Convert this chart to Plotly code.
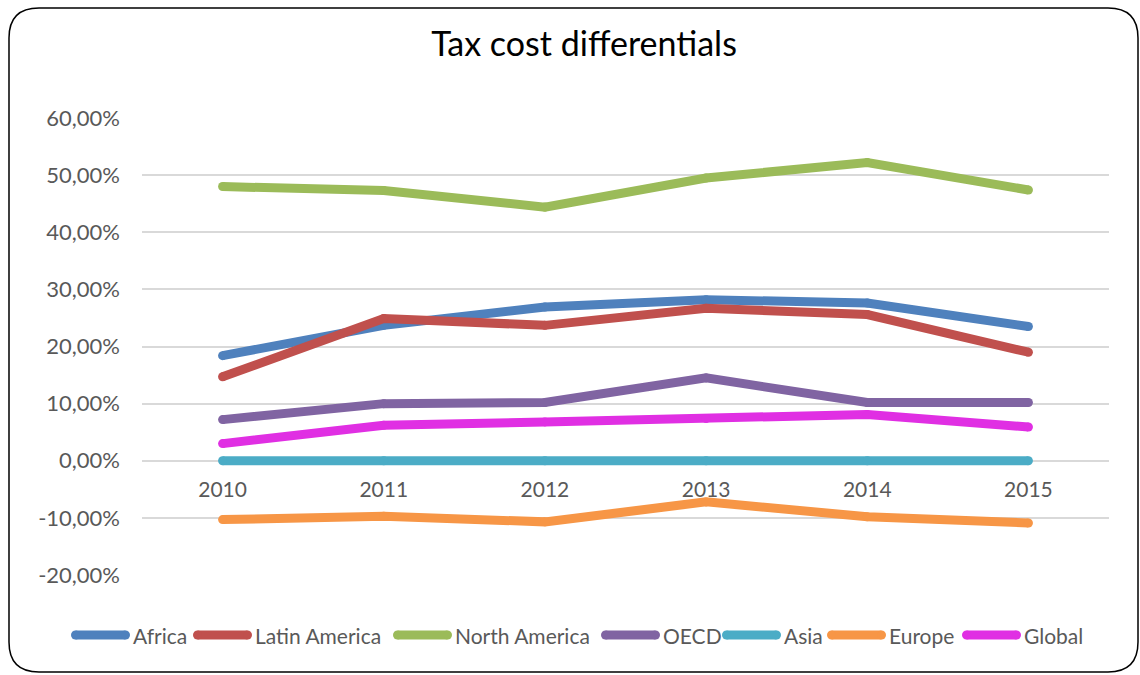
import numpy as np
import plotly.graph_objects as go

# Data (percent)
years = ["2010", "2011", "2012", "2013", "2014", "2015"]
africa = [18.4, 23.7, 26.9, 28.2, 27.6, 23.5]
latin_america = [14.7, 24.9, 23.7, 26.7, 25.6, 19.0]
north_america = [48.0, 47.3, 44.4, 49.5, 52.2, 47.4]
oecd = [7.2, 10.0, 10.2, 14.5, 10.2, 10.2]
asia = [0.0, 0.0, 0.0, 0.0, 0.0, 0.0]
europe = [-10.3, -9.7, -10.7, -7.2, -9.8, -10.9]
global_ = [3.0, 6.2, 6.8, 7.4, 8.1, 5.9]

series_names = ["Africa", "Latin America", "North America", "OECD", "Asia", "Europe", "Global"]
series_values = [africa, latin_america, north_america, oecd, asia, europe, global_]
series_colors = ["#4F81BD", "#C0504D", "#9BBB59", "#8064A2", "#4BACC6", "#F79646", "#E02FE3"]

y_ticks = [-20, -10, 0, 10, 20, 30, 40, 50, 60]

W, H = 1140, 675
# plot area in pixels
L, R, T, B = 142, 1109, 118, 575
LINE_W = 9

FONT = "Lato, 'Open Sans', sans-serif"
GREY = "#595959"


def px_to_paper(x, y):
    return (x - L) / (R - L), (B - y) / (B - T)


fig = go.Figure()
for name, vals, color in zip(series_names, series_values, series_colors):
    fig.add_trace(go.Scatter(
        x=years, y=np.array(vals) / 100.0, name=name, mode="lines+markers",
        line=dict(color=color, width=LINE_W),
        marker=dict(color=color, size=LINE_W, line=dict(width=0)),
        hoverinfo="skip", showlegend=False,
    ))

# Legend drawn as long rounded bars followed by the series name
legend_starts = [71, 193, 393, 601, 722, 827, 962]
legend_len = 59
legend_y = 635
annotations = []
shapes = []
for name, color, sx in zip(series_names, series_colors, legend_starts):
    xa, ya = px_to_paper(sx + LINE_W / 2, legend_y)
    xb, _ = px_to_paper(sx + legend_len - LINE_W / 2, legend_y)
    shapes.append(dict(type="line", xref="paper", yref="paper", x0=xa, x1=xb, y0=ya, y1=ya,
                       line=dict(color=color, width=LINE_W)))
    for xc in (xa, xb):
        shapes.append(dict(type="circle", xref="paper", yref="paper",
                           xsizemode="pixel", ysizemode="pixel", xanchor=xc, yanchor=ya,
                           x0=-LINE_W / 2, x1=LINE_W / 2, y0=-LINE_W / 2, y1=LINE_W / 2,
                           fillcolor=color, line=dict(width=0)))
    tx, ty = px_to_paper(sx + legend_len + 1, legend_y)
    annotations.append(dict(text=name, x=tx, y=ty, xref="paper", yref="paper",
                            xanchor="left", yanchor="middle", showarrow=False,
                            font=dict(family=FONT, size=21, color=GREY)))

# Rounded border around the whole chart
x0, y0, x1, y1, r = 9, 8, 1138, 672, 30


def P(x, y):
    px, py = px_to_paper(x, y)
    return f"{px:.5f},{py:.5f}"


path = (
    f"M {P(x0 + r, y0)} L {P(x1 - r, y0)} Q {P(x1, y0)} {P(x1, y0 + r)} "
    f"L {P(x1, y1 - r)} Q {P(x1, y1)} {P(x1 - r, y1)} "
    f"L {P(x0 + r, y1)} Q {P(x0, y1)} {P(x0, y1 - r)} "
    f"L {P(x0, y0 + r)} Q {P(x0, y0)} {P(x0 + r, y0)} Z"
)
shapes.append(dict(type="path", path=path, xref="paper", yref="paper",
                   line=dict(color="#000000", width=1.5), fillcolor="rgba(0,0,0,0)",
                   layer="above"))

fig.update_layout(
    width=W, height=H,
    margin=dict(l=L, r=W - R, t=T, b=H - B),
    paper_bgcolor="white", plot_bgcolor="white",
    title=dict(text="Tax cost differentials", x=584 / W, xanchor="center",
               xref="container", y=1 - 44 / H, yanchor="middle", yref="container",
               font=dict(family=FONT, size=34, color="#000000")),
    xaxis=dict(type="category", range=[-0.5, 5.5], anchor="free", position=0.25,
               showgrid=False, showline=False, zeroline=False, ticks="",
               tickfont=dict(family=FONT, size=21, color=GREY), ticklabelstandoff=14),
    yaxis=dict(range=[-0.2, 0.6], tickmode="array",
               tickvals=[v / 100.0 for v in y_ticks],
               ticktext=[f"{v:.2f}%".replace(".", ",") for v in y_ticks],
               showgrid=True, gridcolor="#D9D9D9", gridwidth=1.5,
               zeroline=False, showline=False, ticks="",
               tickfont=dict(family=FONT, size=22, color=GREY), ticklabelstandoff=21),
    showlegend=False,
    shapes=shapes,
    annotations=annotations,
)

fig.write_html("out.html")
